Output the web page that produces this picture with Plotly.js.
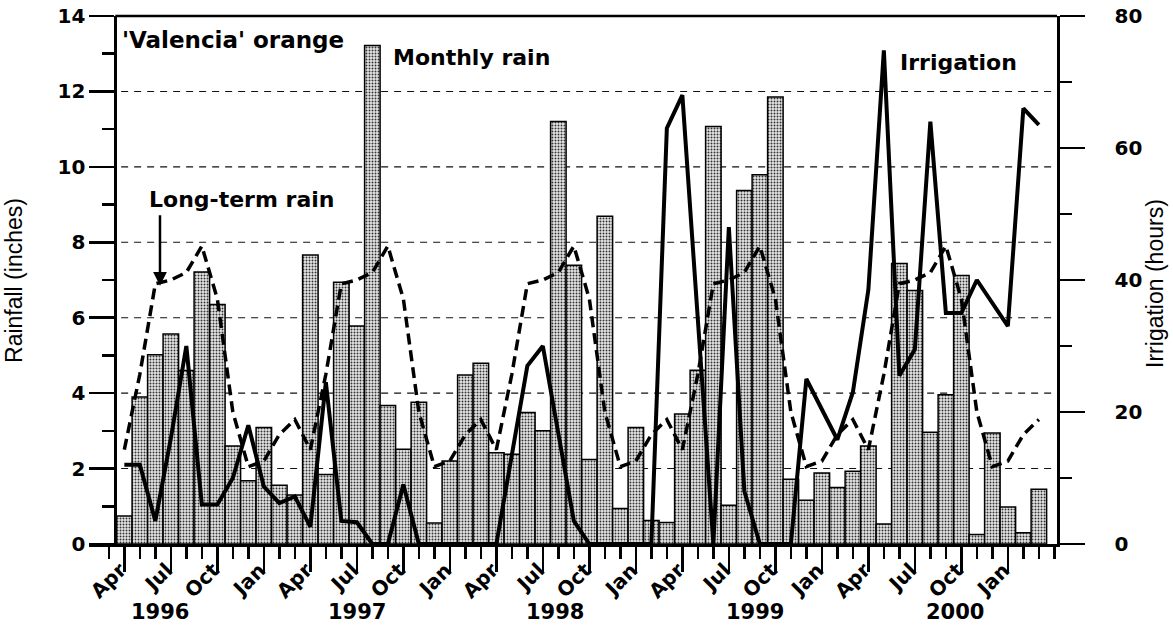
<!DOCTYPE html>
<html>
<head>
<meta charset="utf-8">
<script src="https://cdn.plot.ly/plotly-3.0.1.min.js"></script>
<style>html,body{margin:0;padding:0;background:#fff;}#chart{width:1173px;height:640px;}</style>
</head>
<body>
<div id="chart"></div>
<script>
// Months from Apr 1996 to Mar 2001
const months = [
  "1996-04","1996-05","1996-06","1996-07","1996-08","1996-09","1996-10","1996-11","1996-12",
  "1997-01","1997-02","1997-03","1997-04","1997-05","1997-06","1997-07","1997-08","1997-09","1997-10","1997-11","1997-12",
  "1998-01","1998-02","1998-03","1998-04","1998-05","1998-06","1998-07","1998-08","1998-09","1998-10","1998-11","1998-12",
  "1999-01","1999-02","1999-03","1999-04","1999-05","1999-06","1999-07","1999-08","1999-09","1999-10","1999-11","1999-12",
  "2000-01","2000-02","2000-03","2000-04","2000-05","2000-06","2000-07","2000-08","2000-09","2000-10","2000-11","2000-12",
  "2001-01","2001-02","2001-03"
];
// Monthly rain (inches)
const monthlyRain = [
  0.74, 3.90, 5.02, 5.57, 4.60, 7.21, 6.35, 2.60, 1.68,
  3.09, 1.56, 1.30, 7.66, 1.84, 6.94, 5.78, 13.22, 3.67, 2.51, 3.76, 0.56,
  2.20, 4.48, 4.79, 2.42, 2.38, 3.49, 3.00, 11.20, 7.39, 2.24, 8.69, 0.94,
  3.09, 0.62, 0.57, 3.45, 4.61, 11.07, 1.03, 9.37, 9.79, 11.85, 1.72, 1.16,
  1.88, 1.50, 1.93, 2.60, 0.53, 7.44, 6.72, 2.96, 3.96, 7.12, 0.25, 2.94,
  0.98, 0.30, 1.45
];
// Long-term rain (inches)
const longTermRain = [
  2.5, 4.5, 6.9, 7.0, 7.2, 7.9, 6.5, 3.5, 2.05,
  2.2, 2.9, 3.3, 2.5, 4.5, 6.9, 7.0, 7.2, 7.9, 6.5, 3.5, 2.05,
  2.2, 2.9, 3.3, 2.5, 4.5, 6.9, 7.0, 7.2, 7.9, 6.5, 3.5, 2.05,
  2.2, 2.9, 3.3, 2.5, 4.5, 6.9, 7.0, 7.2, 7.9, 6.5, 3.5, 2.05,
  2.2, 2.9, 3.3, 2.5, 4.5, 6.9, 7.0, 7.2, 7.9, 6.5, 3.5, 2.05,
  2.2, 2.9, 3.3
];
// Irrigation (hours)
const irrigationHours = [
  12, 12, 3.5, 16, 30, 6, 6, 10, 18,
  8.7, 6.2, 7.2, 2.6, 24.5, 3.5, 3.3, 0, 0, 9, 0, 0,
  0, 0, 0, 0, 13.5, 27, 30, 17, 3.5, 0, 0, 0,
  0, 0, 63, 68, 34, 0, 48, 8, 0, 0, 0, 25,
  20.5, 15.8, 23, 38.5, 74.8, 25.5, 29.5, 64, 35, 35, 40, 36.5,
  33, 66, 63.5
];
// Axis tick labels
const tickMonthNames = {"01":"Jan","04":"Apr","07":"Jul","10":"Oct"};
const yearLabels = ["1996","1997","1998","1999","2000"];
const yearLabelPos = [2.3, 15.0, 27.8, 40.7, 53.6];
const gridValues = [2, 4, 6, 8, 10, 12];

const xIdx = months.map((_, i) => i);
const majorVals = [], majorText = [];
months.forEach((m, i) => {
  const mm = m.slice(5);
  if (tickMonthNames[mm]) { majorVals.push(i); majorText.push(tickMonthNames[mm]); }
});
const minorVals = [];
for (let i = -1; i <= months.length; i++) minorVals.push(i);

const FONT = "DejaVu Sans";
const tickFont = {family: FONT, size: 20, color: "#000", weight: 700};
const yPos = 0.0272;

const traces = [
  {
    type: "bar", x: xIdx, y: monthlyRain, width: 1, name: "Monthly rain",
    marker: {
      color: "#e4e4e4",
      line: {color: "#000", width: 1.5},
      pattern: {shape: ".", fillmode: "replace", bgcolor: "#e8e8e8", fgcolor: "#333", size: 3, solidity: 0.35}
    },
    hoverinfo: "skip"
  },
  {
    type: "scatter", mode: "lines", x: xIdx, y: longTermRain, name: "Long-term rain",
    line: {color: "#000", width: 3.5, dash: "11px,6px"}, hoverinfo: "skip"
  },
  {
    type: "scatter", mode: "lines", x: xIdx, y: irrigationHours, yaxis: "y2", name: "Irrigation",
    line: {color: "#000", width: 4}, hoverinfo: "skip"
  }
];

const shapes = gridValues.map(v => ({
  type: "line", xref: "paper", yref: "y", x0: yPos + 0.006, x1: 1, y0: v, y1: v,
  line: {color: "#111", width: 1.1, dash: "7px,6px"}, layer: "below"
}));
shapes.push({type: "line", xref: "paper", yref: "paper", x0: yPos, x1: 1, y0: 1, y1: 1,
  line: {color: "#000", width: 2.5}});

const annotations = [
  {xref: "paper", yref: "paper", x: 0.032, y: 0.9545, xanchor: "left", yanchor: "middle", showarrow: false,
   text: "'Valencia' orange", font: {family: FONT, size: 23, weight: 700, color: "#000"}},
  {xref: "paper", yref: "paper", x: 0.312, y: 0.922, xanchor: "left", yanchor: "middle", showarrow: false,
   text: "Monthly rain", font: {family: FONT, size: 22, weight: 700, color: "#000"}},
  {xref: "paper", yref: "paper", x: 0.8357, y: 0.911, xanchor: "left", yanchor: "middle", showarrow: false,
   text: "Irrigation", font: {family: FONT, size: 22, weight: 700, color: "#000"}},
  {xref: "paper", yref: "paper", x: 0.0599, y: 0.6534, xanchor: "left", yanchor: "middle", showarrow: false,
   text: "Long-term rain", font: {family: FONT, size: 22, weight: 700, color: "#000"}},
  {xref: "x", yref: "y", x: 2.3, y: 6.85, ax: 0, ay: -72, text: "", showarrow: true,
   arrowhead: 2, arrowsize: 1.1, arrowwidth: 2.5, arrowcolor: "#000"},
  {xref: "paper", yref: "paper", x: -0.0775, y: 0.5, textangle: -90, showarrow: false,
   xanchor: "center", yanchor: "middle", text: "Rainfall (inches)", font: {family: "Liberation Sans", size: 23, color: "#000"}},
  {xref: "paper", yref: "paper", x: 1.101, y: 0.494, textangle: -90, showarrow: false,
   xanchor: "center", yanchor: "middle", text: "Irrigation (hours)", font: {family: "Liberation Sans", size: 23, color: "#000"}}
];
yearLabels.forEach((t, i) => annotations.push({
  xref: "x", yref: "paper", x: yearLabelPos[i], y: -0.129, xanchor: "center", yanchor: "middle",
  showarrow: false, text: t, font: {family: FONT, size: 21, weight: 700, color: "#000"}
}));

const layout = {
  width: 1173, height: 640,
  margin: {l: 89, r: 116, t: 16, b: 96, pad: 0},
  paper_bgcolor: "#fff", plot_bgcolor: "#fff",
  showlegend: false,
  bargap: 0,
  xaxis: {
    range: [-2.28, 60.17], showgrid: false, zeroline: false,
    showline: true, linecolor: "#000", linewidth: 2.5,
    tickmode: "array", tickvals: majorVals, ticktext: majorText,
    ticks: "outside", ticklen: 25, tickwidth: 2.5, tickcolor: "#000",
    minor: {tickmode: "array", tickvals: minorVals, ticks: "outside", ticklen: 12, tickwidth: 2.5, tickcolor: "#000"},
    tickangle: -45, tickfont: tickFont, ticklabelstandoff: -21, ticklabelshift: -4
  },
  yaxis: {
    range: [0, 14], anchor: "free", position: yPos,
    showgrid: false, zeroline: false,
    showline: true, linecolor: "#000", linewidth: 2.5,
    tickmode: "linear", tick0: 0, dtick: 2,
    ticks: "outside", ticklen: 25, tickwidth: 2.5, tickcolor: "#000",
    minor: {dtick: 1, ticks: "outside", ticklen: 12, tickwidth: 2.5, tickcolor: "#000"},
    tickfont: tickFont
  },
  yaxis2: {
    range: [0, 80], overlaying: "y", side: "right", anchor: "x",
    showgrid: false, zeroline: false,
    showline: true, linecolor: "#000", linewidth: 2.5,
    tickmode: "linear", tick0: 0, dtick: 20,
    ticks: "outside", ticklen: 25, tickwidth: 2.5, tickcolor: "#000",
    minor: {dtick: 10, ticks: "outside", ticklen: 12, tickwidth: 2.5, tickcolor: "#000"},
    tickfont: tickFont, ticklabelstandoff: 26
  },
  shapes: shapes,
  annotations: annotations
};

Plotly.newPlot("chart", traces, layout, {staticPlot: true, displayModeBar: false});
</script>
</body>
</html>
